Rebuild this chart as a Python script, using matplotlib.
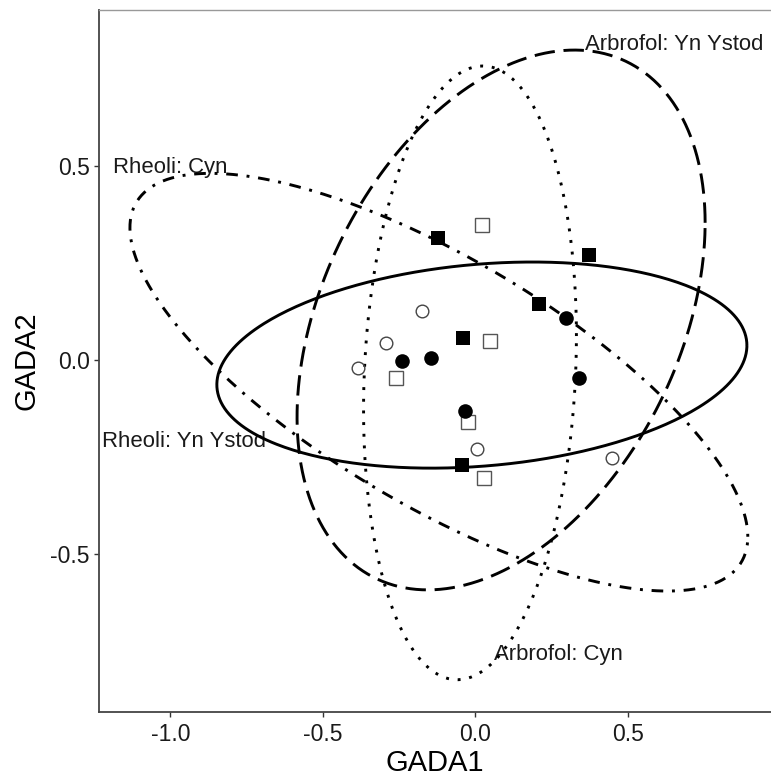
import matplotlib
matplotlib.use('Agg')
import matplotlib.pyplot as plt
import numpy as np

plt.rcParams['font.family'] = ['Liberation Sans', 'DejaVu Sans']

# punkte (4 Gruppen a 5)
filled_sq_x = [-0.123, 0.372, 0.208, -0.041, -0.044]
filled_sq_y = [0.314, 0.270, 0.144, 0.057, -0.270]
open_sq_x = [0.021, 0.048, -0.261, -0.025, 0.028]
open_sq_y = [0.347, 0.049, -0.046, -0.159, -0.303]
filled_ci_x = [0.297, -0.146, -0.241, 0.339, -0.034]
filled_ci_y = [0.108, 0.005, -0.003, -0.046, -0.131]
open_ci_x = [-0.175, -0.293, -0.385, 0.005, 0.448]
open_ci_y = [0.126, 0.044, -0.021, -0.229, -0.252]

# ellipsen: mitte, halbe breite/hoehe, korrelation
ell_names = ['Rheoli: Cyn', 'Rheoli: Yn Ystod', 'Arbrofol: Cyn', 'Arbrofol: Yn Ystod']
ell_cx = [-0.120, 0.021, -0.018, 0.084]
ell_cy = [-0.057, -0.013, -0.033, 0.103]
ell_wx = [1.013, 0.869, 0.349, 0.669]
ell_hy = [0.537, 0.265, 0.789, 0.694]
ell_r = [-0.74, 0.19, 0.12, 0.36]

# beschriftungen
lab_x = [-1.189, -1.225, 0.062, 0.359]
lab_y = [0.481, -0.223, -0.771, 0.797]

stile = [(0, (1, 3, 4, 3)), '-', (0, (1, 3)), (0, (7, 3))]

fig = plt.figure(figsize=(7.71, 7.78), dpi=100)
ax = fig.add_axes([99/771, 66/778, 672/771, 702/778])

for i in range(4):
    ax.text(lab_x[i], lab_y[i], ell_names[i], fontsize=15.9, ha='left', va='baseline',
            color='#1a1a1a', zorder=1)

ax.plot(filled_sq_x, filled_sq_y, 's', color='black', markersize=9.8, markeredgewidth=0, zorder=3)
ax.plot(open_sq_x, open_sq_y, 's', markerfacecolor='none', markeredgecolor='#555555',
        markersize=10.2, markeredgewidth=1.0, zorder=3)
ax.plot(filled_ci_x, filled_ci_y, 'o', color='black', markersize=10.5, markeredgewidth=0, zorder=3)
ax.plot(open_ci_x, open_ci_y, 'o', markerfacecolor='none', markeredgecolor='#444444',
        markersize=9.1, markeredgewidth=1.0, zorder=3)

t = np.linspace(0, 2*np.pi, 400)
for i in range(4):
    r = ell_r[i]
    ex = ell_cx[i] + ell_wx[i]*np.cos(t)
    ey = ell_cy[i] + ell_hy[i]*(r*np.cos(t) + np.sqrt(1 - r**2)*np.sin(t))
    ax.plot(ex, ey, color='black', linewidth=2.1, linestyle=stile[i],
            dash_capstyle='butt', solid_capstyle='butt', zorder=2)

ax.set_xlim(-1.2344, 0.969)
ax.set_ylim(-0.905, 0.900)
ax.set_xticks([-1.0, -0.5, 0.0, 0.5])
ax.set_yticks([-0.5, 0.0, 0.5])
ax.set_xticklabels(['-1.0', '-0.5', '0.0', '0.5'])
ax.set_yticklabels(['-0.5', '0.0', '0.5'])
ax.tick_params(labelsize=16.5, length=3.6, width=1.0, color='#333333', labelcolor='#1a1a1a')
ax.tick_params(axis='x', pad=4.5)
ax.tick_params(axis='y', pad=3)

ax.spines['right'].set_visible(False)
ax.spines['top'].set_color('#999999')
ax.spines['top'].set_linewidth(1.0)
for s in ['left', 'bottom']:
    ax.spines[s].set_color('#444444')
    ax.spines[s].set_linewidth(1.3)

ax.set_xlabel('GADA1', fontsize=21, color='black')
ax.set_ylabel('GADA2', fontsize=21, color='black')
ax.xaxis.set_label_coords(0.5, -0.0527)
ax.yaxis.set_label_coords(-0.087, 0.5)

fig.savefig('out.png', dpi=100)
